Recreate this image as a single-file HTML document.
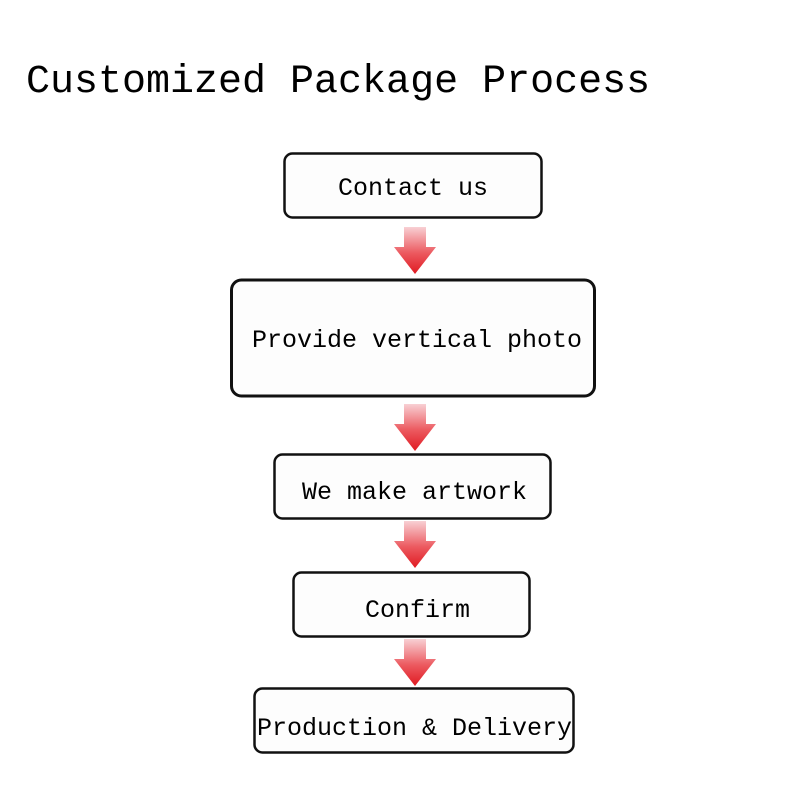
<!DOCTYPE html>
<html><head><meta charset="utf-8"><style>
html,body{margin:0;padding:0;background:#fff;}
svg{display:block;}
text{font-family:"Liberation Mono",monospace;fill:#000;}
</style></head><body>
<svg width="800" height="800" viewBox="0 0 800 800" xmlns="http://www.w3.org/2000/svg">
<defs>
<linearGradient id="g" x1="0" y1="0" x2="0" y2="1">
<stop offset="0" stop-color="#f8d0d4"/>
<stop offset="0.55" stop-color="#ec5a60"/>
<stop offset="1" stop-color="#e01a22"/>
</linearGradient>
<g id="arr"><path d="M-11 0 H11 V20 H21 L0 47 L-21 20 H-11 Z" fill="url(#g)"/></g>
</defs>
<text x="26" y="92" font-size="40">Customized Package Process</text>

<rect x="284.5" y="153.5" width="257" height="64" rx="8" fill="#fdfdfd" stroke="#111" stroke-width="2.5"/>
<text x="338" y="195" font-size="25">Contact us</text>

<use href="#arr" x="415" y="227"/>

<rect x="231.5" y="280" width="363" height="116" rx="10" fill="#fdfdfd" stroke="#111" stroke-width="3"/>
<text x="252" y="347" font-size="25">Provide vertical photo</text>

<use href="#arr" x="415" y="404"/>

<rect x="274.5" y="454.5" width="276" height="64" rx="8" fill="#fdfdfd" stroke="#111" stroke-width="2.5"/>
<text x="302" y="499" font-size="25">We make artwork</text>

<use href="#arr" x="415" y="521"/>

<rect x="293.5" y="572.5" width="236" height="64" rx="8" fill="#fdfdfd" stroke="#111" stroke-width="2.5"/>
<text x="365" y="617" font-size="25">Confirm</text>

<use href="#arr" x="415" y="639"/>

<rect x="254.5" y="688.5" width="319" height="64" rx="8" fill="#fdfdfd" stroke="#111" stroke-width="2.5"/>
<text x="257" y="735" font-size="25">Production &amp; Delivery</text>
</svg>
</body></html>
